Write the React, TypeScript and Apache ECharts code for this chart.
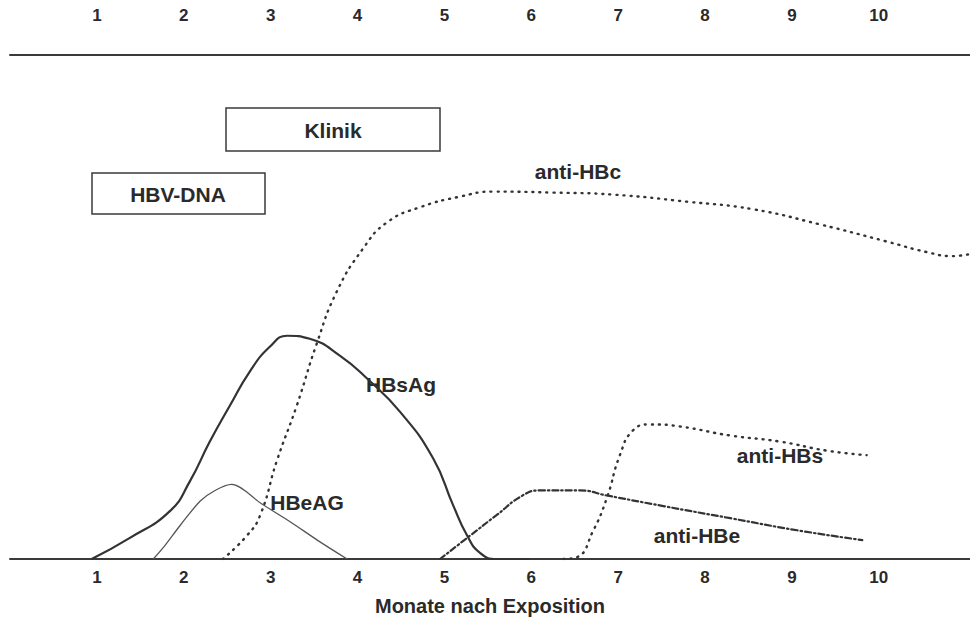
import React, { useEffect, useRef } from "react";
import * as echarts from "echarts";

// Month tick labels (top and bottom axes)
const monthTicks = [1, 2, 3, 4, 5, 6, 7, 8, 9, 10];

// Curves: [month after exposure, relative level 0..100]
const hbsAg: [number, number][] = [
  [0.94, 0], [1.38, 4.2], [1.84, 9.5], [2.07, 15.4], [2.3, 23.3], [2.53, 30.4],
  [2.76, 37.2], [2.99, 42.1], [3.19, 44.3], [3.45, 43.7], [3.8, 40.3], [4.11, 35.8],
  [4.49, 29.2], [4.87, 20.0], [5.1, 10.7], [5.26, 4.7], [5.41, 1.2], [5.6, 0], [5.98, 0],
];
const hbeAg: [number, number][] = [
  [1.65, 0], [1.78, 2.6], [1.96, 6.7], [2.19, 11.5], [2.36, 13.6], [2.55, 14.8],
  [2.9, 10.9], [3.22, 7.45], [3.55, 3.6], [3.88, 0],
];
const antiHBc: [number, number][] = [
  [2.45, 0], [2.73, 4.7], [2.88, 8.7], [3.07, 19.4], [3.3, 30.4], [3.53, 42.7],
  [3.76, 53.0], [4.06, 61.5], [4.34, 66.8], [4.72, 69.8], [5.18, 71.9],
  [5.56, 72.9], [6.25, 72.7], [6.94, 72.3], [7.79, 70.9], [8.55, 69.4], [9.32, 66.4],
  [10.09, 63.0], [10.55, 60.9], [10.85, 60.1], [11.05, 60.5],
];
const antiHBe: [number, number][] = [
  [4.95, 0], [5.3, 4.7], [5.6, 8.7], [5.9, 12.6], [6.1, 13.6], [6.56, 13.6],
  [6.87, 12.6], [7.52, 10.5], [8.29, 8.1], [9.06, 5.7], [9.81, 3.75],
];
const antiHBs: [number, number][] = [
  [6.37, 0], [6.53, 0.4], [6.71, 5.5], [6.87, 12.1], [7.02, 20.6], [7.17, 25.5],
  [7.37, 26.7], [7.71, 26.3], [8.29, 24.5], [8.86, 23.3], [9.4, 21.5], [9.86, 20.6],
];

const FONT = "'Liberation Sans', Arial, Helvetica, sans-serif";
const INK = "#2a2a2a";
const LINE = "#333333";

export default function App() {
  const ref = useRef<HTMLDivElement>(null);

  useEffect(() => {
    if (!ref.current) return;
    const chart = echarts.init(ref.current, undefined, { renderer: "svg" });

    const tickFormatter = (v: number) =>
      monthTicks.indexOf(Math.round(v)) >= 0 && Math.abs(v - Math.round(v)) < 1e-6 ? String(Math.round(v)) : "";

    const axisBase = {
      type: "value" as const,
      min: 0,
      max: 11.05,
      interval: 1,
      splitLine: { show: false },
      axisTick: { show: false },
      axisLine: { show: true, onZero: false, lineStyle: { color: "#3a3a3a", width: 2 } },
    };

    const labelStyle = {
      formatter: tickFormatter,
      fontSize: 17,
      fontWeight: "bold",
      fontFamily: FONT,
      color: INK,
      showMinLabel: false,
      showMaxLabel: false,
    };

    const textEl = (text: string, x: number, y: number, size = 21) => ({
      type: "text",
      x,
      y,
      style: {
        text,
        fill: INK,
        font: `bold ${size}px ${FONT}`,
        textAlign: "center",
        textVerticalAlign: "middle",
      },
    });

    const boxEl = (x1: number, y1: number, x2: number, y2: number) => ({
      type: "rect",
      shape: { x: x1, y: y1, width: x2 - x1, height: y2 - y1 },
      style: { fill: "transparent", stroke: "#3a3a3a", lineWidth: 1.5 },
    });

    const dotted = { color: LINE, width: 2.4, type: [1, 6], cap: "round" };
    const line = (name: string, data: [number, number][], lineStyle: any, smooth = 0.5) => ({
      name,
      type: "line",
      data,
      smooth,
      symbol: "none",
      lineStyle,
    });

    chart.setOption({
      animation: false,
      backgroundColor: "#ffffff",
      grid: { left: 10, right: 0, top: 55, bottom: 60, containLabel: false },
      xAxis: [
        {
          ...axisBase,
          position: "bottom",
          axisLabel: { ...labelStyle, margin: 10 },
          name: "Monate nach Exposition",
          nameLocation: "middle",
          nameGap: 37,
          nameTextStyle: { fontSize: 20, fontWeight: "bold", fontFamily: FONT, color: INK },
        },
        {
          ...axisBase,
          position: "top",
          axisLabel: { ...labelStyle, margin: 31 },
        },
      ],
      yAxis: { type: "value", min: 0, max: 100, show: false },
      series: [
        line("HBsAg", hbsAg, { color: LINE, width: 2.2 }),
        line("HBeAG", hbeAg, { color: "#555555", width: 1.3 }, 0.3),
        line("anti-HBc", antiHBc, dotted),
        line("anti-HBe", antiHBe, { color: LINE, width: 2.2, type: [6, 3, 1.5, 3], cap: "round" }),
        line("anti-HBs", antiHBs, dotted),
      ],
      graphic: [
        boxEl(226, 108, 440, 151),
        textEl("Klinik", 333, 130),
        boxEl(92, 173, 265, 214),
        textEl("HBV-DNA", 178, 194),
        textEl("anti-HBc", 578, 171),
        textEl("HBsAg", 401, 384),
        textEl("HBeAG", 307, 502),
        textEl("anti-HBs", 780, 455),
        textEl("anti-HBe", 697, 535),
      ],
    });

    return () => chart.dispose();
  }, []);

  return (
    <div
      ref={ref}
      style={{ position: "fixed", left: 0, top: 0, width: 970, height: 621, background: "#ffffff" }}
    />
  );
}
